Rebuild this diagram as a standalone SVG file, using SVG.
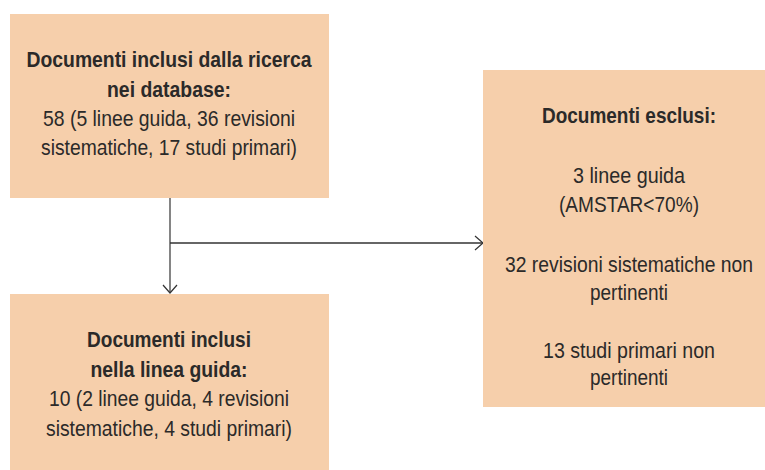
<svg xmlns="http://www.w3.org/2000/svg" width="765" height="470" viewBox="0 0 765 470">
<style>
.box{fill:#F6CFAB;stroke:none}
text{font-family:"Liberation Sans",Arial,sans-serif;font-size:22px;fill:#2B2A29;text-anchor:middle}
.b{font-weight:bold}
.ln{fill:none;stroke:#333;stroke-width:1.3}
.v{stroke:#666;stroke-width:1.6}
</style>
<defs>
<marker id="ah" markerWidth="12" markerHeight="16" refX="10" refY="8" orient="auto" markerUnits="userSpaceOnUse">
<path d="M2,1 L10,8 L2,15" fill="none" stroke="#333" stroke-width="1.2"/>
</marker>
</defs>
<rect width="765" height="470" fill="#fff"/>
<g id="connectors">
<line class="ln v" x1="170" y1="198" x2="170" y2="293" marker-end="url(#ah)"/>
<line class="ln" x1="170" y1="243" x2="483" y2="243" marker-end="url(#ah)"/>
</g>
<g id="node-ricerca">
<rect class="box" x="10" y="14" width="319" height="184"/>
<text class="b" x="169" y="67" textLength="285" lengthAdjust="spacingAndGlyphs">Documenti inclusi dalla ricerca</text>
<text class="b" x="169" y="97" textLength="124" lengthAdjust="spacingAndGlyphs">nei database:</text>
<text x="169" y="126" textLength="252" lengthAdjust="spacingAndGlyphs">58 (5 linee guida, 36 revisioni</text>
<text x="169" y="155" textLength="256" lengthAdjust="spacingAndGlyphs">sistematiche, 17 studi primari)</text>
</g>
<g id="node-inclusi">
<rect class="box" x="10" y="294" width="319" height="176"/>
<text class="b" x="169" y="347" textLength="164" lengthAdjust="spacingAndGlyphs">Documenti inclusi</text>
<text class="b" x="169" y="377" textLength="157" lengthAdjust="spacingAndGlyphs">nella linea guida:</text>
<text x="169" y="406" textLength="240" lengthAdjust="spacingAndGlyphs">10 (2 linee guida, 4 revisioni</text>
<text x="169" y="436" textLength="246" lengthAdjust="spacingAndGlyphs">sistematiche, 4 studi primari)</text>
</g>
<g id="node-esclusi">
<rect class="box" x="483" y="70" width="282" height="337"/>
<text class="b" x="629" y="123" textLength="174" lengthAdjust="spacingAndGlyphs">Documenti esclusi:</text>
<text x="629" y="183" textLength="112" lengthAdjust="spacingAndGlyphs">3 linee guida</text>
<text x="629" y="212" textLength="140" lengthAdjust="spacingAndGlyphs">(AMSTAR&lt;70%)</text>
<text x="629" y="272" textLength="248" lengthAdjust="spacingAndGlyphs">32 revisioni sistematiche non</text>
<text x="629" y="300" textLength="78" lengthAdjust="spacingAndGlyphs">pertinenti</text>
<text x="629" y="358" textLength="172" lengthAdjust="spacingAndGlyphs">13 studi primari non</text>
<text x="629" y="385" textLength="78" lengthAdjust="spacingAndGlyphs">pertinenti</text>
</g>
</svg>
